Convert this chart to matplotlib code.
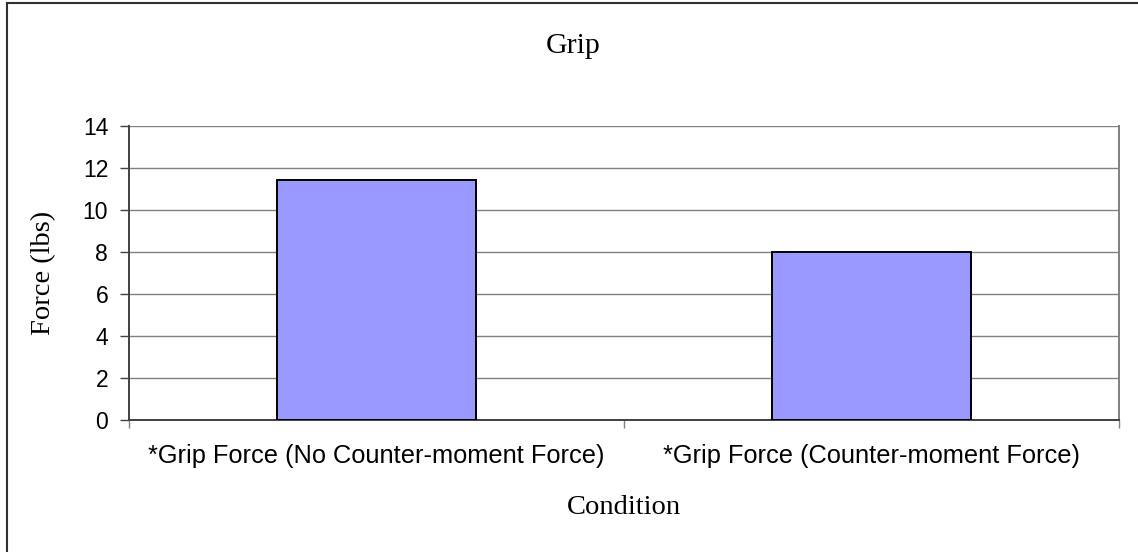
import matplotlib
matplotlib.use("Agg")
import matplotlib.pyplot as plt
from matplotlib.lines import Line2D

# data
conditions = ["*Grip Force (No Counter-moment Force)",
              "*Grip Force (Counter-moment Force)"]
force = [11.43, 8.0]
y_ticks = [0, 2, 4, 6, 8, 10, 12, 14]

fig = plt.figure(figsize=(11.38, 5.52), dpi=100)
ax = fig.add_axes([129 / 1138, 132 / 552, 990 / 1138, 294 / 552])

x = range(len(conditions))
ax.bar(x, force, width=0.404, color="#9999FF", edgecolor="black",
       linewidth=1.4, zorder=3)

ax.set_xlim(-0.5, len(conditions) - 0.5)
ax.set_ylim(0, 14)
ax.set_yticks(y_ticks)
ax.yaxis.grid(True, color="#808080", linewidth=1.0, zorder=0)

# category ticks sit between categories, labels on the centres
ax.set_xticks(list(x))
ax.set_xticklabels(conditions, fontfamily="Liberation Sans", fontsize=18.3)
ax.set_xticks([-0.5, 0.5, 1.5], minor=True)
ax.tick_params(axis="x", which="major", length=0, pad=17)
ax.tick_params(axis="x", which="minor", length=6, width=1.0,
               color="#808080", direction="out")
ax.tick_params(axis="y", length=6.5, width=1.0, color="#404040",
               direction="out", pad=8.5)
for lab in ax.get_yticklabels():
    lab.set_fontfamily("Liberation Sans")
    lab.set_fontsize(16.5)

ax.spines["left"].set_color("#404040")
ax.spines["left"].set_linewidth(1.4)
ax.spines["bottom"].set_color("#404040")
ax.spines["bottom"].set_linewidth(1.4)
ax.spines["right"].set_color("#808080")
ax.spines["right"].set_linewidth(1.4)
ax.spines["top"].set_visible(False)

ax.set_xlabel("Condition", fontfamily="Liberation Serif", fontsize=20.5,
              labelpad=20)
ax.set_ylabel("Force (lbs)", fontfamily="Liberation Serif", fontsize=20.5,
              labelpad=19)
fig.text(573 / 1138, 1 - 46 / 552, "Grip", fontfamily="Liberation Serif",
         fontsize=21.5, ha="center", va="center")

# chart border (left and top are inside the picture)
fig.add_artist(Line2D([7 / 1138, 7 / 1138], [0, 1 - 3 / 552],
                      transform=fig.transFigure, color="#303030", lw=1.5))
fig.add_artist(Line2D([7 / 1138, 1], [1 - 3 / 552, 1 - 3 / 552],
                      transform=fig.transFigure, color="#303030", lw=1.5))

fig.savefig("out.png", dpi=100)
